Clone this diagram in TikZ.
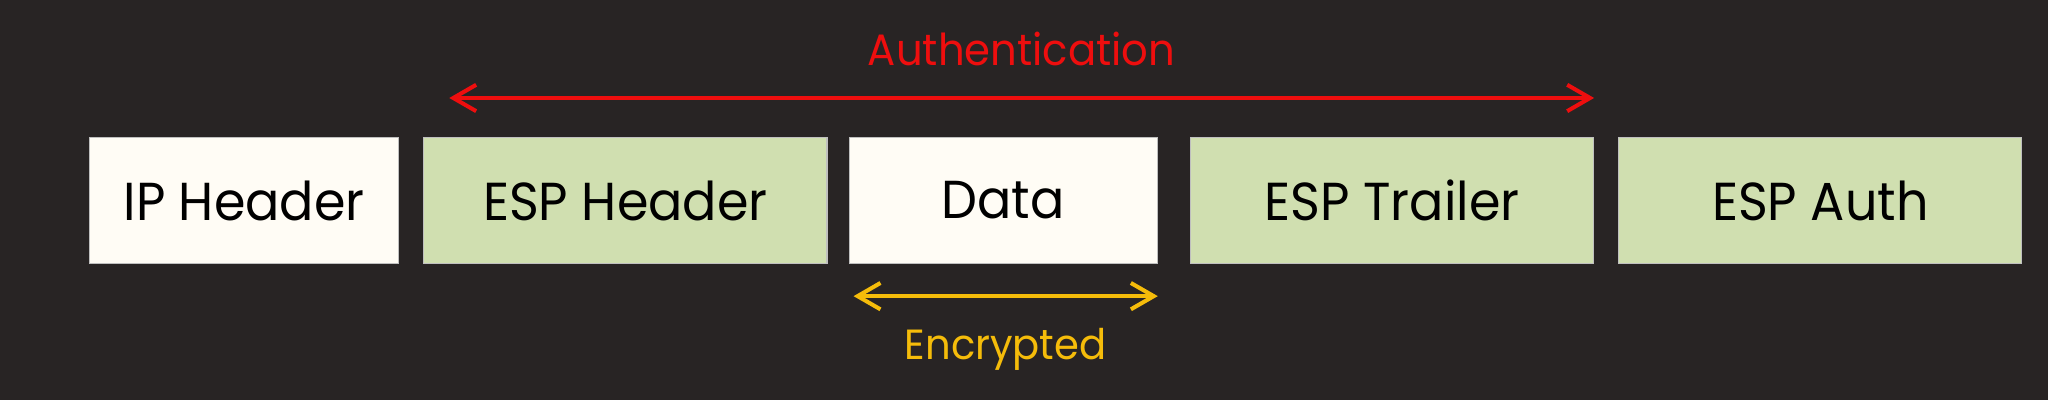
\documentclass[tikz,border=0pt]{standalone}
\usepackage{fontspec}
\setmainfont{Poppins}[FakeStretch=0.95]
\usepackage{tikz}
\usetikzlibrary{arrows.meta,positioning}

\definecolor{bgdark}{RGB}{40,36,36}
\definecolor{pktwhite}{RGB}{255,252,245}
\definecolor{pktgreen}{RGB}{208,223,176}
\definecolor{authred}{RGB}{238,14,14}
\definecolor{encyellow}{RGB}{245,188,10}

\begin{document}
\begin{tikzpicture}[
  x=0.01cm, y=-0.01cm,
  field/.style={draw=black!25, line width=0.3pt, minimum height=1.26cm, inner sep=0pt, font=\fontsize{15.2}{18}\selectfont},
  plain/.style={field, fill=pktwhite},
  esp/.style={field, fill=pktgreen},
  span/.style={{Straight Barb[length=6.5pt,width=7.5pt]}-{Straight Barb[length=6.5pt,width=7.5pt]}, line width=1.15pt, line cap=round, line join=round}
]
  \fill[bgdark] (0,0) rectangle (2048,400);
  \useasboundingbox (0,0) rectangle (2048,400);

  % packet fields
  \node[plain, minimum width=3.09cm, anchor=north west] (ip) at (89,137) {IP Header};
  \node[esp, minimum width=4.03cm, right=0.24cm of ip] (esphdr) {ESP Header};
  \node[plain, minimum width=3.08cm, right=0.21cm of esphdr] (data) {Data};
  \node[esp, minimum width=4.03cm, right=0.32cm of data] (esptrl) {ESP Trailer};
  \node[esp, minimum width=4.03cm, right=0.24cm of esptrl] (espauth) {ESP Auth};

  % ranges
  \coordinate (authL) at ([xshift=0.26cm, yshift=0.39cm]esphdr.north west);
  \coordinate (authR) at ([yshift=0.39cm]esptrl.north east);
  \draw[span, authred] (authL) -- node[above=0.3cm, inner sep=0pt, font=\fontsize{12.5}{15}\selectfont] {Authentication} (authR);

  \coordinate (encL) at ([xshift=0.05cm, yshift=-0.32cm]data.south west);
  \coordinate (encR) at ([yshift=-0.32cm]data.south east);
  \draw[span, encyellow] (encL) -- node[below=0.3cm, inner sep=0pt, font=\fontsize{12}{15}\selectfont] {Encrypted} (encR);
\end{tikzpicture}
\end{document}
